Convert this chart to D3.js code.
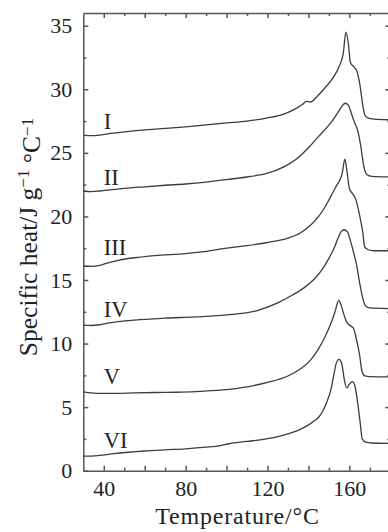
<!DOCTYPE html>
<meta charset="utf-8">
<head>
<script src="https://cdn.jsdelivr.net/npm/d3@7"></script>
<style>
  body { margin: 0; background: #fff; }
  svg text { font-family: "Liberation Serif", "Times New Roman", serif; fill: #222; }
  .curve { fill: none; stroke: #3c3c3c; stroke-width: 1.3px; }
  .axis path, .axis line { stroke: #555; stroke-width: 1.5px; }
</style>
</head>
<body>
<div id="chart"></div>
<script>
// curve data: [temperature, specific heat]
var curveI = [[30,26.4],[34,26.35],[38,26.4],[42,26.5],[50,26.65],[60,26.8],[70,26.92],[80,27.05],[90,27.2],[100,27.35],[110,27.5],[120,27.75],[128,28.05],[134,28.5],[137,28.8],[139,29.05],[141,29.0],[144,29.4],[148,30.1],[152,30.9],[155,31.8],[157,32.8],[158.3,34.5],[159.5,33.6],[160.5,32.1],[162,31.8],[163.5,31.5],[165,30.5],[166.5,28.8],[167.5,28.0],[169,27.75],[172,27.65],[180,27.6]];
var curveII = [[30,22.0],[34,21.95],[38,22.0],[44,22.1],[50,22.2],[60,22.33],[70,22.45],[80,22.55],[90,22.7],[100,22.9],[110,23.1],[120,23.4],[128,23.9],[134,24.5],[140,25.4],[145,26.3],[149,27.0],[152,27.6],[154.5,28.2],[156.5,28.7],[158,28.9],[159.5,28.75],[161,28.1],[162.5,27.4],[164,26.8],[165.5,25.6],[167,24.0],[168.5,23.3],[171,23.15],[180,23.1]];
var curveIII = [[30,16.1],[34,16.07],[38,16.15],[42,16.35],[47,16.55],[55,16.75],[65,16.92],[80,17.08],[90,17.25],[100,17.5],[110,17.7],[120,17.95],[130,18.3],[136,18.7],[141,19.3],[145,20.0],[149,21.0],[152,21.9],[154,22.5],[155.5,22.9],[156.5,23.4],[157.8,24.5],[158.8,23.6],[160,22.2],[161.5,21.8],[163,21.4],[165,20.1],[166.5,18.8],[167.5,17.6],[169,17.4],[172,17.3],[180,17.3]];
var curveIV = [[30,11.45],[34,11.42],[38,11.48],[42,11.6],[47,11.72],[55,11.85],[70,12.0],[85,12.1],[100,12.25],[115,12.6],[125,13.2],[132,13.8],[138,14.4],[143,15.1],[147,15.9],[150,16.7],[152.5,17.5],[154.5,18.3],[156,18.8],[157.5,18.95],[159,18.8],[160.5,18.1],[162,17.2],[163.5,16.2],[165,14.8],[166.5,13.6],[168,12.95],[170,12.8],[180,12.75]];
var curveV = [[30,6.2],[34,6.12],[38,6.08],[45,6.08],[55,6.12],[65,6.15],[75,6.17],[85,6.22],[98,6.35],[110,6.6],[120,6.95],[130,7.45],[136,8.0],[141,8.7],[145,9.6],[148,10.5],[151,11.6],[153,12.5],[154.8,13.4],[156,13.0],[157.5,12.2],[159,11.6],[161,11.35],[162,11.2],[163.5,10.3],[165,9.1],[166.2,7.8],[167.6,7.45],[170,7.4],[180,7.38]];
var curveVI = [[30,1.15],[34,1.15],[38,1.2],[44,1.32],[52,1.45],[60,1.55],[70,1.64],[80,1.72],[90,1.85],[97,1.98],[101,2.12],[110,2.3],[120,2.52],[130,2.9],[136,3.25],[141,3.7],[143.5,4.0],[145,4.2],[147,4.7],[149,5.4],[151,6.4],[152.5,7.6],[153.5,8.4],[155,8.75],[156.3,8.4],[157.5,7.2],[158.7,6.5],[160,6.8],[161.5,7.0],[162.8,6.6],[164,5.4],[165.2,3.9],[166.3,2.5],[168,2.25],[171,2.18],[180,2.15]];

var curveNames = ["I", "II", "III", "IV", "V", "VI"];
var curveData = [curveI, curveII, curveIII, curveIV, curveV, curveVI];
// where each roman numeral sits (data coords)
var labelX = [40, 40, 40, 40, 40, 40];
var labelY = [26.9, 22.45, 16.95, 12.05, 6.85, 1.78];

var xTicks = [40, 50, 60, 70, 80, 90, 100, 110, 120, 130, 140, 150, 160, 170];
var yTicks = [2.5, 5, 7.5, 10, 12.5, 15, 17.5, 20, 22.5, 25, 27.5, 30, 32.5, 35];

var W = 388, H = 532;
var margin = {left: 83.3, top: 13, right: 390.3, bottom: 470.7};
var serif = '"Liberation Serif", "Times New Roman", serif';

var svg = d3.select("#chart").append("svg")
    .attr("width", W)
    .attr("height", H);

var x = d3.scaleLinear().domain([30, 180]).range([margin.left, margin.right]);
var y = d3.scaleLinear().domain([0, 36]).range([margin.bottom, margin.top]);

function styleTicks(g, major, horiz) {
  g.attr("font-family", serif);
  g.selectAll(".tick line").each(function(d) {
    var len = (d % major === 0) ? 5 : 3;
    var l = d3.select(this);
    if (horiz) l.attr("y2", l.attr("y2") < 0 ? -len : len);
    else l.attr("x2", l.attr("x2") < 0 ? -len : len);
  });
  g.selectAll(".tick text")
    .style("font-family", serif)
    .style("font-size", "22px")
    .attr("fill", "#222");
}

// bottom axis
var gb = svg.append("g").attr("class", "axis")
    .attr("transform", "translate(0," + margin.bottom + ")")
    .call(d3.axisBottom(x).tickValues(xTicks).tickSize(-3).tickSizeOuter(0).tickPadding(10)
      .tickFormat(d => d % 40 === 0 ? d : ""));
styleTicks(gb, 20, true);

// top axis, no labels
var gt = svg.append("g").attr("class", "axis")
    .attr("transform", "translate(0," + margin.top + ")")
    .call(d3.axisTop(x).tickValues(xTicks).tickSize(-3).tickSizeOuter(0).tickFormat(""));
styleTicks(gt, 20, true);

// left axis
var gl = svg.append("g").attr("class", "axis")
    .attr("transform", "translate(" + margin.left + ",0)")
    .call(d3.axisLeft(y).tickValues([0].concat(yTicks)).tickSize(-3).tickSizeOuter(0).tickPadding(11)
      .tickFormat(d => d % 5 === 0 ? d : ""));
styleTicks(gl, 5, false);

// right axis (sits just past the picture edge)
var gr = svg.append("g").attr("class", "axis")
    .attr("transform", "translate(" + margin.right + ",0)")
    .call(d3.axisRight(y).tickValues(yTicks).tickSize(-3).tickSizeOuter(0).tickFormat(""));
styleTicks(gr, 5, false);

svg.selectAll(".axis .domain").attr("stroke", "#555");

var line = d3.line()
    .x(d => x(d[0]))
    .y(d => y(d[1]))
    .curve(d3.curveMonotoneX);

svg.append("g").selectAll("path")
    .data(curveData)
    .enter().append("path")
    .attr("class", "curve")
    .attr("d", line);

svg.append("g").selectAll("text")
    .data(curveNames)
    .enter().append("text")
    .attr("x", (d, i) => x(labelX[i]))
    .attr("y", (d, i) => y(labelY[i]))
    .style("font-size", "22.5px")
    .text(d => d);

// axis titles
svg.append("text")
    .attr("x", 237.5)
    .attr("y", 524)
    .attr("text-anchor", "middle")
    .style("font-size", "24px")
    .style("letter-spacing", "0.8px")
    .text("Temperature/°C");

var yt = svg.append("text")
    .attr("transform", "translate(36.5,237) rotate(-90)")
    .attr("text-anchor", "middle")
    .style("font-size", "25.5px");
yt.append("tspan").text("Specific heat/J g");
yt.append("tspan").attr("dy", "-0.45em").style("font-size", "17px").text("−1");
yt.append("tspan").attr("dy", "0.45em").text(" °C");
yt.append("tspan").attr("dy", "-0.45em").style("font-size", "17px").text("−1");
</script>
</body>
</html>
